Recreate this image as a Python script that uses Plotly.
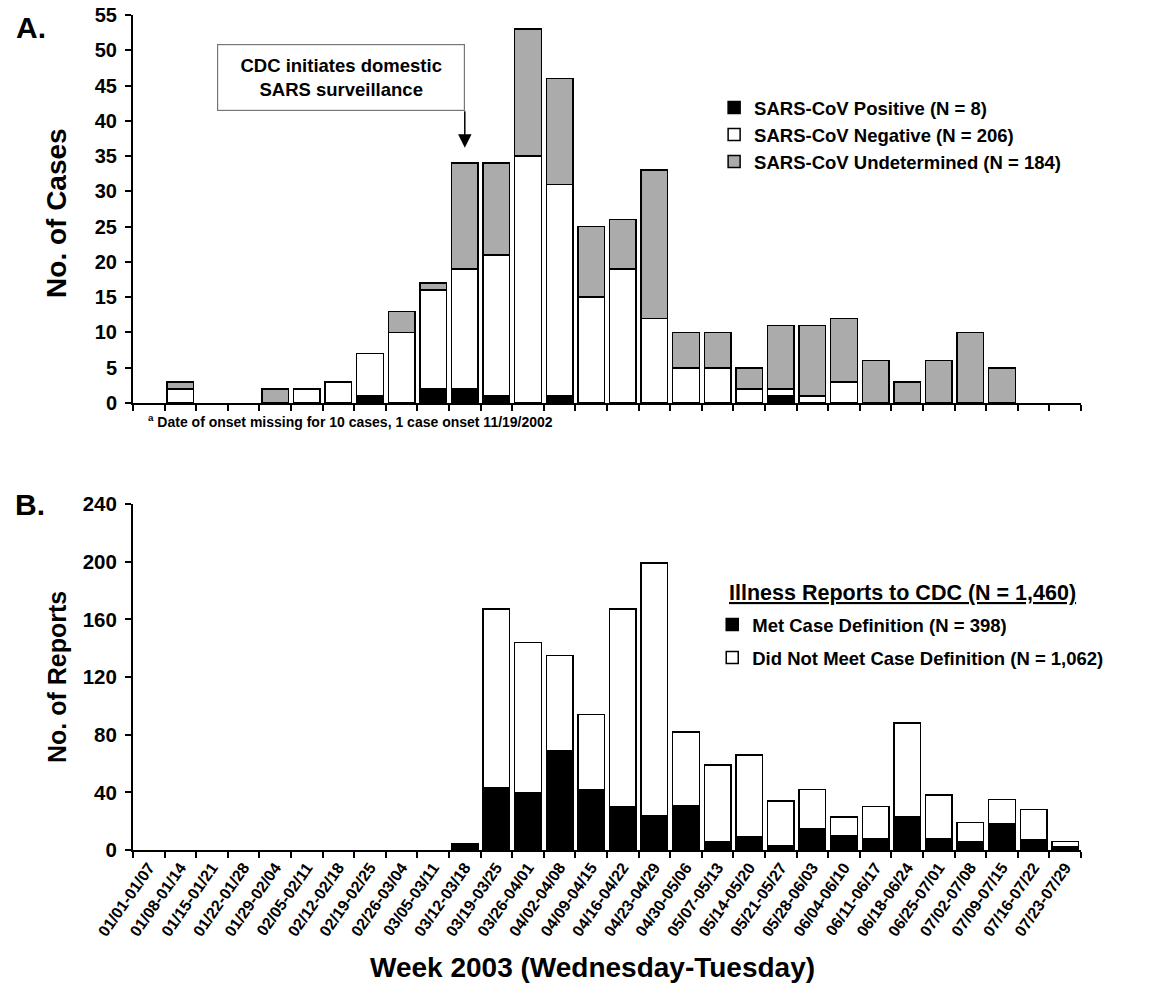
import plotly.graph_objects as go

weeks = ["01/01-01/07", "01/08-01/14", "01/15-01/21", "01/22-01/28", "01/29-02/04",
         "02/05-02/11", "02/12-02/18", "02/19-02/25", "02/26-03/04", "03/05-03/11",
         "03/12-03/18", "03/19-03/25", "03/26-04/01", "04/02-04/08", "04/09-04/15",
         "04/16-04/22", "04/23-04/29", "04/30-05/06", "05/07-05/13", "05/14-05/20",
         "05/21-05/27", "05/28-06/03", "06/04-06/10", "06/11-06/17", "06/18-06/24",
         "06/25-07/01", "07/02-07/08", "07/09-07/15", "07/16-07/22", "07/23-07/29"]

# Panel A: SARS cases by week of onset
positive = [0, 0, 0, 0, 0, 0, 0, 1, 0, 2, 2, 1, 0, 1, 0, 0, 0, 0, 0, 0,
            1, 0, 0, 0, 0, 0, 0, 0, 0, 0]
negative = [0, 2, 0, 0, 0, 2, 3, 6, 10, 14, 17, 20, 35, 30, 15, 19, 12, 5, 5, 2,
            1, 1, 3, 0, 0, 0, 0, 0, 0, 0]
undetermined = [0, 1, 0, 0, 2, 0, 0, 0, 3, 1, 15, 13, 18, 15, 10, 7, 21, 5, 5, 3,
                9, 10, 9, 6, 3, 6, 10, 5, 0, 0]

# Panel B: illness reports to CDC
met = [0, 0, 0, 0, 0, 0, 0, 0, 0, 0, 4, 43, 40, 69, 42, 30, 24, 31, 6, 9,
       3, 15, 10, 8, 23, 8, 6, 18, 7, 2]
not_met = [0, 0, 0, 0, 0, 0, 0, 0, 0, 0, 0, 124, 104, 66, 52, 137, 175, 51, 53, 57,
           31, 27, 13, 22, 65, 30, 13, 17, 21, 4]


def nz(vals):
    return [v if v else None for v in vals]


FONT = "Arial, Liberation Sans, Helvetica, sans-serif"
line = dict(color="black", width=1.5)

fig = go.Figure()
fig.add_trace(go.Bar(x=weeks, y=nz(positive), name="<b>SARS-CoV Positive (N = 8)</b>",
                     marker=dict(color="black", line=line), xaxis="x", yaxis="y", legend="legend"))
fig.add_trace(go.Bar(x=weeks, y=nz(negative), name="<b>SARS-CoV Negative (N = 206)</b>",
                     marker=dict(color="white", line=line), xaxis="x", yaxis="y", legend="legend"))
fig.add_trace(go.Bar(x=weeks, y=nz(undetermined), name="<b>SARS-CoV Undetermined (N = 184)</b>",
                     marker=dict(color="#ababab", line=line), xaxis="x", yaxis="y", legend="legend"))
fig.add_trace(go.Bar(x=weeks, y=nz(met), name="<b>Met Case Definition (N = 398)</b>",
                     marker=dict(color="black", line=line), xaxis="x2", yaxis="y2",
                     legend="legend2", legendgroup="met"))
fig.add_trace(go.Bar(x=weeks, y=nz(not_met), name="<b>Did Not Meet Case Definition (N = 1,062)</b>",
                     marker=dict(color="white", line=line), xaxis="x2", yaxis="y2",
                     legend="legend2", legendgroup="notmet"))

axis_common = dict(showline=True, linecolor="black", linewidth=2, ticks="outside",
                   ticklen=6, tickwidth=1.5, tickcolor="black", showgrid=False,
                   zeroline=False, mirror=False, automargin=False)

fig.update_layout(
    width=1175, height=999,
    margin=dict(l=125, r=102, t=7, b=157),
    paper_bgcolor="white", plot_bgcolor="white",
    barmode="stack", bargap=0.16,
    font=dict(family=FONT, color="black"),
    xaxis=dict(domain=[0, 1], anchor="y", categoryorder="array", categoryarray=weeks,
               range=[-0.5, 29.5], tickson="boundaries", showticklabels=False, **axis_common),
    yaxis=dict(domain=[0.5353, 1], anchor="x", range=[0, 55], dtick=5,
               tickfont=dict(size=20, family=FONT), tickprefix="<b>", ticksuffix="</b>",
               ticklabeloverflow="allow", ticklabelstandoff=4, **axis_common),
    xaxis2=dict(domain=[0, 1], anchor="y2", categoryorder="array", categoryarray=weeks,
                range=[-0.5, 29.5], tickson="boundaries", tickangle=-55,
                tickfont=dict(size=16, family=FONT), tickprefix="<b>", ticksuffix="</b>",
                **axis_common),
    yaxis2=dict(domain=[0, 0.4144], anchor="x2", range=[0, 240], dtick=40,
                tickfont=dict(size=20.5, family=FONT), tickprefix="<b>", ticksuffix="</b>",
                ticklabeloverflow="allow", ticklabelstandoff=4, **axis_common),
    legend=dict(x=0.613, y=0.9114, xanchor="left", yanchor="top", traceorder="normal",
                font=dict(size=18.5, family=FONT), itemwidth=30, bgcolor="rgba(0,0,0,0)",
                tracegroupgap=0),
    legend2=dict(x=0.611, y=0.2922, xanchor="left", yanchor="top", traceorder="grouped",
                 font=dict(size=18.5, family=FONT), itemwidth=30, bgcolor="rgba(0,0,0,0)",
                 tracegroupgap=6),
    showlegend=True,
)

ann = [
    dict(text="<b>A.</b>", x=-0.1076, y=1.0075, yanchor="top", font=dict(size=30)),
    dict(text="<b>B.</b>", x=-0.1087, y=0.4132, font=dict(size=30)),
    dict(text="<b>No. of Cases</b>", x=-0.0802, y=0.7629, textangle=-90, font=dict(size=28)),
    dict(text="<b>No. of Reports</b>", x=-0.0802, y=0.2072, textangle=-90, font=dict(size=25)),
    dict(text="<b>Week 2003 (Wednesday-Tuesday)</b>", x=0.4842, y=-0.1413, font=dict(size=28)),
    dict(text="<b><sup>a</sup> Date of onset missing for 10 cases, 1 case onset 11/19/2002</b>",
         x=0.0137, y=0.5138, xanchor="left", font=dict(size=14)),
    dict(text="<b>CDC initiates domestic<br>SARS surveillance</b>", x=0.2194, y=0.9257,
         font=dict(size=18.5), bordercolor="#777777", borderwidth=1.2, borderpad=4,
         bgcolor="white", width=238, height=57),
    dict(text="<b><u>Illness Reports to CDC (N = 1,460)</u></b>", x=0.6266, y=0.3078,
         xanchor="left", font=dict(size=21.5)),
]
for a in ann:
    a.setdefault("xref", "paper")
    a.setdefault("yref", "paper")
    a.setdefault("showarrow", False)
    a.setdefault("xanchor", "center")
    a.setdefault("yanchor", "middle")
    a["font"] = dict(family=FONT, color="black", **a["font"])
    fig.add_annotation(**a)

# arrow pointing to week when surveillance began
fig.add_annotation(x="03/12-03/18", y=36.2, xref="x", yref="y", text="", showarrow=True,
                   ax=0, ay=-38, arrowhead=2, arrowsize=1.8, arrowwidth=1.5, arrowcolor="black")

fig.write_html("out.html")
